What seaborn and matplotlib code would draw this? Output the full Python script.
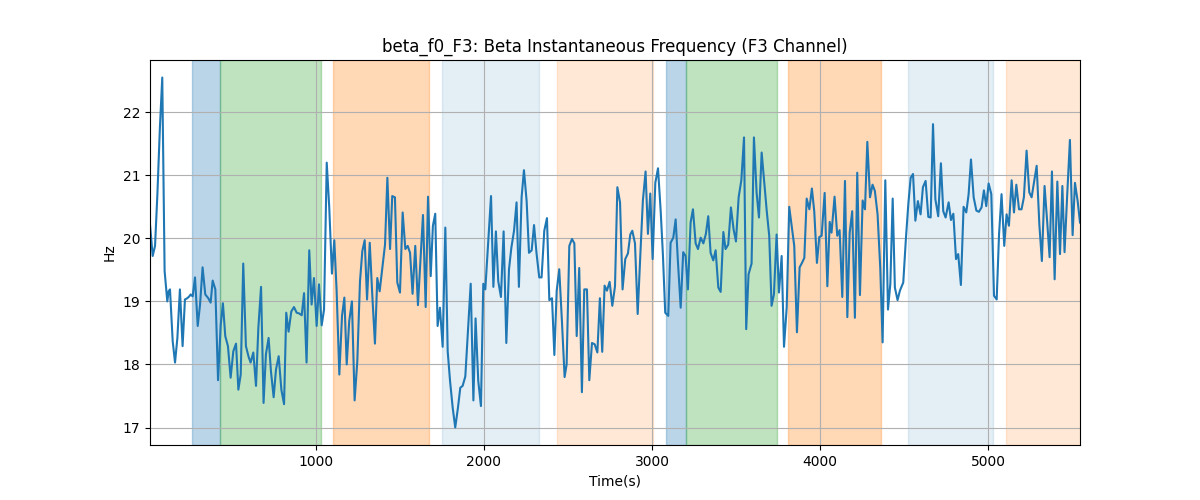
import matplotlib
matplotlib.use("Agg")
import matplotlib.pyplot as plt
import seaborn as sns

# sample times (s) and beta instantaneous frequency (Hz)
time_s = [
    12, 28, 42, 56, 71, 85, 99, 115, 123, 131, 147, 161, 175, 190, 206, 220,
    234, 246, 254, 266, 280, 296, 310, 325, 341, 359, 373, 385, 401, 417, 433, 446,
    460, 476, 492, 508, 524, 538, 552, 567, 583, 599, 611, 627, 643, 657, 673, 688,
    702, 718, 732, 748, 762, 778, 794, 810, 823, 837, 853, 869, 885, 899, 915, 929,
    944, 960,
    974, 988, 1004, 1018, 1034, 1048, 1064, 1079, 1095, 1109, 1123, 1139, 1155, 1169,
    1183, 1198, 1214, 1230, 1246, 1262, 1276, 1290, 1304, 1320, 1335, 1351, 1365, 1379,
    1395, 1411, 1425, 1441, 1454, 1470, 1484, 1500, 1516, 1532, 1546, 1560, 1575, 1591,
    1607, 1623, 1637, 1653, 1667, 1683, 1696, 1710, 1724, 1738, 1754, 1770, 1784,
    1798, 1814, 1829, 1845, 1859, 1873, 1889, 1907, 1921, 1937, 1950, 1966, 1982, 1996,
    2008, 2026, 2042, 2056, 2071, 2085, 2101, 2117, 2133, 2149, 2163, 2179, 2194, 2208,
    2224, 2238, 2254, 2268, 2284, 2298, 2313, 2329, 2343, 2359, 2375, 2389, 2405, 2419,
    2433, 2448, 2464, 2480, 2492, 2508, 2524, 2538, 2552, 2567, 2583, 2597, 2613, 2627,
    2643, 2659, 2675,
    2690, 2704, 2718, 2732, 2748, 2764, 2780, 2794, 2810, 2825, 2841, 2857, 2871, 2883,
    2899, 2915, 2931, 2946, 2962, 2976, 2990, 3004, 3020, 3036, 3052, 3065, 3079, 3097,
    3111, 3127, 3141, 3155, 3171, 3186, 3200, 3214, 3230, 3244, 3260, 3274, 3290, 3306,
    3321, 3335, 3349, 3365, 3379, 3395, 3409, 3425, 3438, 3454, 3470, 3486, 3500, 3516,
    3532, 3548, 3561, 3575,
    3593, 3607, 3623, 3637, 3653, 3669, 3683, 3698, 3712, 3726, 3742, 3756, 3772, 3786,
    3802, 3817, 3833, 3847, 3863, 3879, 3893, 3907, 3921, 3937, 3952, 3966, 3982, 3996,
    4010, 4028, 4044, 4058, 4069, 4087, 4103, 4117, 4133, 4149, 4163, 4177, 4192, 4208,
    4222, 4238, 4254, 4268, 4282, 4298, 4313, 4327, 4343, 4359, 4373, 4389, 4405, 4419,
    4433, 4446, 4462,
    4476, 4496, 4512, 4526, 4540, 4554, 4568, 4583, 4599, 4613, 4629, 4645, 4659, 4673,
    4687, 4704, 4720, 4734, 4748, 4766, 4780, 4794, 4810, 4823, 4839, 4855, 4871, 4885,
    4899, 4915, 4931, 4946, 4962, 4976, 4990, 5004, 5020, 5036, 5052, 5066, 5081, 5097,
    5111, 5125, 5141, 5155, 5169, 5185, 5200, 5214, 5230, 5246, 5260, 5276, 5290, 5306,
    5321, 5337, 5353, 5367, 5381, 5397, 5413, 5429, 5443, 5456, 5472, 5488, 5504, 5518,
    5534, 5548,
]

beta_hz = [
    20.22, 19.72, 19.88, 20.70, 21.76, 22.55, 19.48, 19.00, 19.16, 19.19, 18.37, 18.03,
    18.42, 19.19, 18.29, 19.03, 19.05, 19.08, 19.11, 19.08, 19.38, 18.61, 18.95, 19.54,
    19.11, 19.05, 18.98, 19.33, 19.19, 17.75, 18.63, 18.97, 18.45, 18.29, 17.79, 18.21,
    18.33, 17.60, 17.84, 19.60, 18.29, 18.12, 18.03, 18.19, 17.66, 18.58, 19.23, 17.39,
    18.16, 18.42, 17.89, 17.48, 17.92, 18.13, 17.60, 17.37, 18.82, 18.52, 18.84, 18.91,
    18.82, 18.81, 18.78, 19.13, 18.03, 19.81,
    18.95, 19.37, 18.61, 19.27, 18.62, 18.87, 21.20, 20.49, 19.44, 19.97, 19.16, 17.84,
    18.77, 19.06, 18.00, 18.69, 19.00, 17.43, 18.05, 19.32, 19.80, 19.97, 19.03, 19.93,
    19.11, 18.33, 19.37, 19.16, 19.53, 19.90, 20.96, 19.83, 20.67, 20.65, 19.30, 19.14,
    20.41, 19.83, 19.88, 19.77, 19.12, 19.88, 18.94, 19.69, 20.37, 18.91, 20.66, 19.40,
    20.20, 20.39, 18.61, 18.90, 18.28, 20.17, 18.21,
    17.74, 17.31, 17.00, 17.31, 17.63, 17.66, 17.81, 18.63, 19.28, 17.43, 18.73, 17.74,
    17.34, 19.28, 19.19, 19.98, 20.67, 19.23, 20.11, 19.32, 19.07, 20.11, 18.34, 19.51,
    19.85, 20.12, 20.57, 19.23, 20.65, 21.08, 20.59, 19.77, 19.81, 20.21, 19.76, 19.38,
    19.38, 20.12, 20.32, 19.02, 19.05, 18.15, 19.17, 19.51, 18.69, 17.80, 18.00, 19.88,
    19.99, 19.92, 18.45, 19.53, 17.56, 19.19, 19.19, 17.75, 18.34, 18.32, 18.19,
    19.05, 18.20, 19.25, 19.17, 19.31, 18.93, 19.24, 20.81, 20.57, 19.19, 19.67, 19.76,
    20.06, 20.12, 19.92, 18.80, 19.75, 20.60, 21.06, 20.07, 20.71, 19.67, 20.88, 21.11,
    20.43, 19.75, 18.82, 18.77, 19.93, 20.01, 20.30, 19.61, 18.90, 19.78, 19.72, 19.19,
    20.25, 20.46, 19.92, 19.83, 20.01, 19.92, 20.07, 20.35, 19.77, 19.65, 19.81, 19.22,
    19.15, 20.10, 19.83, 19.90, 20.49, 20.14, 19.95, 20.65, 20.92, 21.60, 18.56, 19.43,
    19.60, 21.60, 20.72, 20.33, 21.36, 20.86, 20.44, 20.04, 18.93, 19.11, 20.06, 19.14,
    19.72, 18.28, 18.90, 20.50, 20.17, 19.88, 18.51, 19.54, 19.61, 19.69, 20.63, 20.46,
    20.79, 20.43, 19.61, 20.02, 20.04, 20.72, 19.24, 20.26, 20.09, 20.66, 20.04, 20.13,
    19.07, 20.91, 18.75, 20.09, 20.43, 18.74, 21.04, 19.10, 20.60, 20.46, 21.53, 20.65,
    20.85, 20.75, 20.38, 19.53, 18.35, 20.92, 18.87, 19.28, 20.63, 19.22, 19.02,
    19.17, 19.30, 20.01, 20.54, 20.96, 21.02, 20.28, 20.59, 20.38, 20.81, 20.91, 20.34,
    20.33, 21.81, 20.62, 20.35, 21.19, 20.43, 20.33, 20.57, 20.29, 20.39, 19.67, 19.75,
    19.26, 20.50, 20.41, 20.70, 21.25, 20.65, 20.44, 20.42, 20.49, 20.76, 20.51, 20.87,
    20.70, 19.09, 19.03, 20.06, 20.70, 19.88, 20.38, 20.20, 20.92, 20.41, 20.85, 20.46,
    20.46, 20.65, 21.39, 20.73, 20.65, 20.92, 21.15, 20.22, 19.64, 20.83, 20.25, 19.70,
    21.06, 19.35, 20.90, 19.75, 20.83, 19.78, 20.70, 21.56, 20.05, 20.88, 20.59, 20.25,
]

# shaded segments: start, end (s) and segment kind
span_start = [262, 429, 1101, 1750, 2435, 3083, 3202, 3810, 4524, 5107]
span_end = [429, 1030, 1673, 2327, 3006, 3202, 3744, 4363, 5030, 5600]
span_kind = ["blue", "green", "orange", "pale_blue", "pale_orange",
             "blue", "green", "orange", "pale_blue", "pale_orange"]

span_style = {
    "blue": ("tab:blue", 0.3),
    "green": ("tab:green", 0.3),
    "orange": ("tab:orange", 0.3),
    "pale_blue": ("tab:blue", 0.12),
    "pale_orange": ("tab:orange", 0.17),
}

fig, ax = plt.subplots(figsize=(12, 5), dpi=100)

for s, e, k in zip(span_start, span_end, span_kind):
    color, alpha = span_style[k]
    ax.axvspan(s, e, color=color, alpha=alpha)

sns.lineplot(x=time_s, y=beta_hz, ax=ax, color="tab:blue", linewidth=1.5)

ax.set_xlim(time_s[0], time_s[-1])
ax.set_title("beta_f0_F3: Beta Instantaneous Frequency (F3 Channel)")
ax.set_xlabel("Time(s)")
ax.set_ylabel("Hz")
ax.grid(True)

fig.savefig("out.png", dpi=100)
